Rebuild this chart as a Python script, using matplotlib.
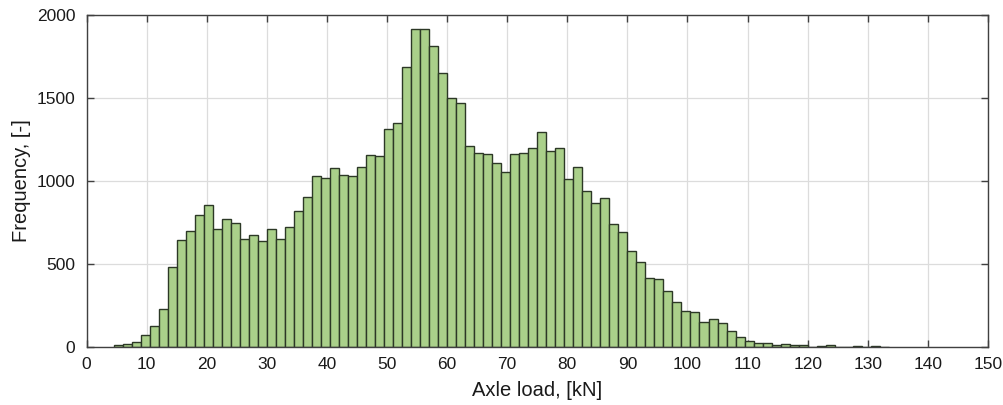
import numpy as np
import matplotlib
matplotlib.use("Agg")
import matplotlib.pyplot as plt

plt.rcParams['font.family'] = ['Liberation Sans', 'DejaVu Sans']

# Histogram data: bins of 1.5 kN starting at 4.5 kN
bin_width = 1.5
first_edge = 4.5
counts = [10, 16, 28, 70, 127, 228, 480, 644, 696, 798,
          856, 712, 770, 744, 648, 676, 638, 712, 650, 722,
          818, 903, 1028, 1018, 1078, 1034, 1030, 1082, 1154, 1152,
          1315, 1350, 1685, 1915, 1915, 1812, 1653, 1500, 1470, 1208,
          1170, 1164, 1108, 1055, 1160, 1167, 1200, 1294, 1180, 1196,
          1014, 1082, 938, 870, 896, 740, 690, 580, 514, 418,
          408, 336, 274, 214, 210, 152, 166, 147, 95, 62,
          38, 26, 24, 12, 18, 12, 12, 3, 8, 10,
          1, 0, 8, 0, 6, 0]
left_edges = first_edge + bin_width * np.arange(len(counts))

x_ticks = list(range(0, 151, 10))
y_ticks = [0, 500, 1000, 1500, 2000]
x_label = "Axle load, [kN]"
y_label = "Frequency, [-]"

fig = plt.figure(figsize=(10.04, 4.05), dpi=100)
ax = fig.add_axes([0.0862, 0.1432, 0.984 - 0.0862, 0.963 - 0.1432])

ax.bar(left_edges, counts, width=bin_width, align='edge',
       facecolor='#aad08a', edgecolor='#2c3826', linewidth=1.0, zorder=3)

ax.set_xlim(0, 150)
ax.set_ylim(0, 2000)
ax.set_xticks(x_ticks)
ax.set_yticks(y_ticks)
ax.grid(True, color='#dcdcdc', linewidth=0.9, zorder=0)
ax.set_axisbelow(True)

for s in ax.spines.values():
    s.set_color('#404040')
    s.set_linewidth(1.0)
    s.set_zorder(5)

ax.tick_params(axis='both', direction='in', length=5, width=1.0,
               color='#404040', top=True, right=True, labelsize=12.5,
               labelcolor='#1a1a1a')
ax.tick_params(axis='x', pad=7)
ax.tick_params(axis='y', pad=8)

ax.set_xlabel(x_label, fontsize=14.5, color='#1a1a1a', labelpad=7)
ax.set_ylabel(y_label, fontsize=14.5, color='#1a1a1a', labelpad=4)

fig.savefig("out.png", dpi=100)
